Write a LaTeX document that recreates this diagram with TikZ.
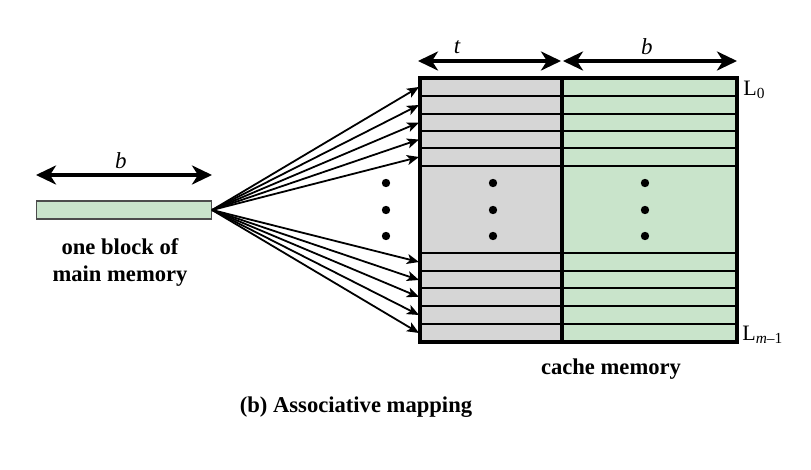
\documentclass[tikz,border=0pt]{standalone}
\usepackage{fontspec}
\setmainfont{Liberation Serif}
\usetikzlibrary{arrows.meta}
\definecolor{tagg}{HTML}{D6D6D6}
\definecolor{blkg}{HTML}{C9E4CB}
\begin{document}
\begin{tikzpicture}[x=0.5pt,y=-0.5pt,
  fanarrow/.style={-{Stealth[length=6pt,width=5pt,inset=1.5pt]}, line width=0.9pt},
  dimarrow/.style={{Stealth[length=10pt,width=9.5pt,inset=3pt]}-{Stealth[length=10pt,width=9.5pt,inset=3pt]}, line width=1.7pt},
  lbl/.style={font=\fontsize{11.3}{13.5}\selectfont\bfseries, align=center, inner sep=0pt},
  dimlbl/.style={font=\fontsize{11.5}{13.5}\selectfont\itshape, inner sep=0pt},
  linelbl/.style={font=\fontsize{11}{13}\selectfont, inner sep=0pt, anchor=west},
  rowline/.style={line width=1pt},
  dot/.style={circle, fill=black, inner sep=0pt, minimum size=4.2pt}]
\useasboundingbox (0,0) rectangle (811,470);

% main memory block
\node[draw=black!70, fill=blkg, line width=0.6pt, minimum width=87.5pt, minimum height=9pt, inner sep=0pt] (blk) at (124,210) {};
\coordinate (bl) at (36,175);
\coordinate (br) at (212,175);
\draw[dimarrow] (bl) -- (br);
\node[dimlbl] (bb) at (121,161) {b};
\node[lbl] (blktxt) at (120,262) {one block of\\main memory};

% cache
\fill[tagg] (420,78) rectangle (562,342);
\fill[blkg] (562,78) rectangle (737,342);
\foreach \y in {96,114,131,148,166,253,271,288,306,324}
  \draw[rowline] (420,\y) -- (737,\y);
\draw[line width=1.6pt] (562,78) -- (562,342);
\draw[line width=2pt] (420,78) rectangle (737,342);

% dim arrows
\coordinate (tl) at (418,61);
\coordinate (tr) at (561,61);
\coordinate (dl) at (563,61);
\coordinate (dr) at (737,61);
\draw[dimarrow] (tl) -- (tr);
\draw[dimarrow] (dl) -- (dr);
\node[dimlbl] (tt) at (457,47) {t};
\node[dimlbl] (tb) at (647,47) {b};

% line labels
\node[linelbl] (l0) at (743,90) {L\textsubscript{0}};
\node[linelbl] (lm) at (742,335) {L\textsubscript{\textit{m}–1}};

% dots
\foreach \x/\n in {386/a,493/b,645/c}{
  \node[dot] (\n1) at (\x,183) {};
  \node[dot] (\n2) at (\x,210) {};
  \node[dot] (\n3) at (\x,236) {};
}

% fan arrows
\foreach \y [count=\i] in {87,105,122.5,139.5,157,262,280,297,315,333}{
  \coordinate (e\i) at (419,\y);
  \draw[fanarrow] (blk.east) -- (e\i);
}

% captions
\node[lbl] (cm) at (611,369) {cache memory};
\node[lbl] (cap) at (356,407) {(b) Associative mapping};
\end{tikzpicture}
\end{document}
